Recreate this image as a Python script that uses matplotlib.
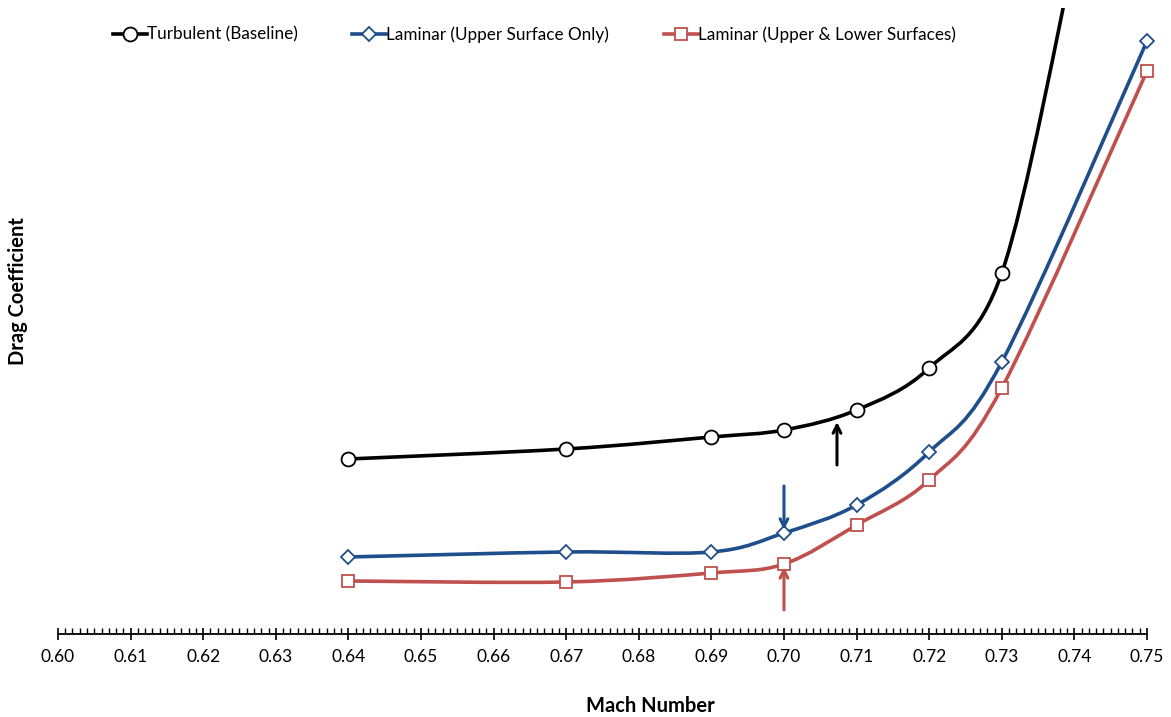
import numpy as np
import matplotlib
matplotlib.use("Agg")
import matplotlib.pyplot as plt
from matplotlib.path import Path
from matplotlib.patches import PathPatch
from matplotlib.lines import Line2D

plt.rcParams['font.family'] = ['Lato', 'DejaVu Sans']

# data (drag coefficient in arbitrary units)
mach_turb = [0.64, 0.67, 0.69, 0.70, 0.71, 0.72, 0.73, 0.74]
cd_turb = [17.5, 18.5, 19.7, 20.4, 22.4, 26.6, 36.1, 68.0]

mach_lam = [0.64, 0.67, 0.69, 0.70, 0.71, 0.72, 0.73, 0.75]
cd_upper = [7.7, 8.2, 8.2, 10.1, 12.9, 18.2, 27.2, 59.3]
cd_both = [5.3, 5.2, 6.1, 7.0, 10.9, 15.4, 24.6, 56.3]

# transition arrows: (x, y_start, y_end)
arrow_turb = (0.7073, 16.9, 21.2)
arrow_upper = (0.70, 14.8, 10.4)
arrow_both = (0.70, 2.4, 6.7)

legend_labels = ['Turbulent (Baseline)', 'Laminar (Upper Surface Only)',
                 'Laminar (Upper & Lower Surfaces)']

BLACK = '#000000'
BLUE = '#1f4e8c'
RED = '#c0504d'


def smooth_path(xs, ys):
    # excel-style smoothed line through the points (cubic bezier segments)
    pts = np.column_stack([xs, ys])
    n = len(pts)
    verts = [pts[0]]
    codes = [Path.MOVETO]
    for i in range(n - 1):
        p0 = pts[i - 1] if i > 0 else pts[i]
        p1 = pts[i]
        p2 = pts[i + 1]
        p3 = pts[i + 2] if i + 2 < n else pts[i + 1]
        c1 = p1 + (p2 - p0) / 6.0
        c2 = p2 - (p3 - p1) / 6.0
        verts += [c1, c2, p2]
        codes += [Path.CURVE4] * 3
    return Path(verts, codes)


fig = plt.figure(figsize=(11.71, 7.17), dpi=100)
ax = fig.add_axes([0.0495, 0.1158, 0.9300, 0.873])

series = [
    (mach_turb, cd_turb, BLACK, 'o', 10),
    (mach_lam, cd_upper, BLUE, 'D', 7),
    (mach_lam, cd_both, RED, 's', 8.5),
]
for xs, ys, col, mk, ms in series:
    ax.add_patch(PathPatch(smooth_path(xs, ys), facecolor='none',
                           edgecolor=col, lw=2.6, zorder=2))
    ax.plot(xs, ys, ls='none', marker=mk, ms=ms, mfc='white', mec=col,
            mew=1.3, zorder=3, clip_on=False if col != BLACK else True)

for (x, y0, y1), col in zip([arrow_turb, arrow_upper, arrow_both],
                            [BLACK, BLUE, RED]):
    ax.annotate('', xy=(x, y1), xytext=(x, y0),
                arrowprops=dict(arrowstyle='->', color=col, lw=2.2,
                                mutation_scale=14, shrinkA=0, shrinkB=0),
                zorder=4)

ax.set_xlim(0.60, 0.75)
ax.set_ylim(0, 62.6)
ax.set_xticks(np.round(np.arange(0.60, 0.7501, 0.01), 2))
ax.set_xticklabels([f'{v:.2f}' for v in np.arange(0.60, 0.7501, 0.01)])
ax.set_xticks(np.arange(0.60, 0.7501, 0.001), minor=True)
ax.tick_params(axis='x', which='major', direction='inout', length=9,
               width=1.2, labelsize=12.5, pad=6)
ax.tick_params(axis='x', which='minor', direction='in', length=4, width=1)
ax.set_yticks([])
for s in ['top', 'right', 'left']:
    ax.spines[s].set_visible(False)
ax.spines['bottom'].set_linewidth(1.3)

ax.set_xlabel('Mach Number', fontsize=14.5, fontweight='bold', va='center')
ax.xaxis.set_label_coords(0.544, -0.115)
ax.set_ylabel('Drag Coefficient', fontsize=14.5, fontweight='bold',
              va='center', ha='center')
ax.yaxis.set_label_coords(-0.0367, 0.548)

handles = [Line2D([], [], color=c, lw=2.6, marker=m, ms=s, mfc='white',
                  mec=c, mew=1.3)
           for (_, _, c, m, s) in series]
fig.legend(handles, legend_labels, loc='upper left',
           bbox_to_anchor=(0.083, 0.985), ncol=3, frameon=False,
           fontsize=12.3, handlelength=2.0, handletextpad=0.0,
           columnspacing=3.2)

fig.savefig('out.png', dpi=100)
